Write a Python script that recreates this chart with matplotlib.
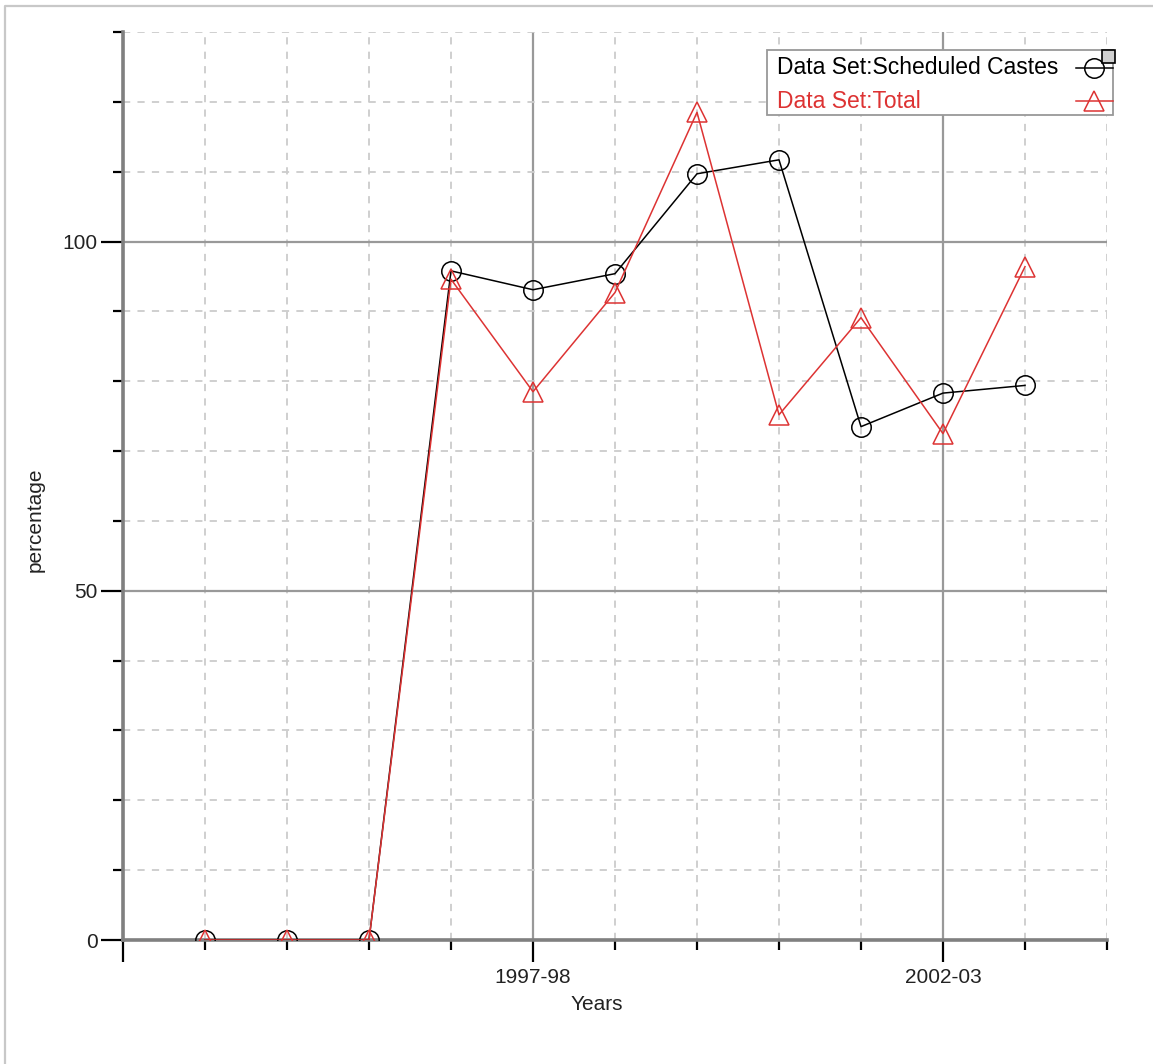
import matplotlib
matplotlib.use("Agg")
import matplotlib.pyplot as plt
from matplotlib.lines import Line2D
from matplotlib.patches import Rectangle

years = ["1993-94", "1994-95", "1995-96", "1996-97", "1997-98", "1998-99",
         "1999-00", "2000-01", "2001-02", "2002-03", "2003-04"]
sc_values = [0, 0, 0, 95.8, 93.1, 95.4, 109.7, 111.7, 73.5, 78.3, 79.4]
total_values = [0, 0, 0, 94.6, 78.5, 92.7, 118.5, 75.2, 89.1, 72.5, 96.4]
labeled_years = ["1997-98", "2002-03"]
series_names = ["Data Set:Scheduled Castes", "Data Set:Total"]

RED = '#dd3333'
TXT = '#222222'
W, H = 1153, 1064

plt.rcParams['font.family'] = ['Liberation Sans', 'DejaVu Sans']
fig = plt.figure(figsize=(W/100, H/100), dpi=100)
ax = fig.add_axes([123/W, 1 - 940/H, (1107-123)/W, (940-32)/H])

xs = list(range(1, len(years) + 1))
ax.plot(xs, sc_values, color='black', lw=1.1, marker='o', ms=14,
        mfc='none', mec='black', mew=1.1, zorder=3)
ax.plot(xs, total_values, color=RED, lw=1.1, marker='^', ms=15,
        mfc='none', mec=RED, mew=1.1, zorder=4)

ax.set_xlim(0, 12)
ax.set_ylim(0, 130)

major_x = [0] + [years.index(y) + 1 for y in labeled_years]
ax.set_xticks(major_x)
ax.set_xticklabels([""] + labeled_years, fontsize=15, color=TXT)
ax.set_xticks([i for i in range(0, 13) if i not in major_x], minor=True)
ax.set_yticks([0, 50, 100])
ax.set_yticklabels(["0", "50", "100"], fontsize=15, color=TXT)
ax.set_yticks([v for v in range(10, 131, 10) if v % 50 != 0], minor=True)

ax.tick_params(axis='both', which='major', length=16, width=1.6, color='black')
ax.tick_params(axis='x', which='major', pad=4)
ax.tick_params(axis='y', which='major', pad=2)
ax.tick_params(axis='both', which='minor', length=7, width=1.6, color='black')

ax.grid(True, which='major', color='#999999', lw=1.6, ls='-', zorder=1)
ax.grid(True, which='minor', color='#cccccc', lw=1.3, ls=(0, (4, 4)), zorder=1)
ax.set_axisbelow(True)

for s in ['top', 'right']:
    ax.spines[s].set_visible(False)
for s in ['left', 'bottom']:
    ax.spines[s].set_color('#808080')
    ax.spines[s].set_linewidth(2.6)

ax.set_xlabel("Years", fontsize=15, color=TXT)
ax.xaxis.set_label_coords((597-123)/(1107-123), -(1005-940)/(940-32), transform=ax.transAxes)
ax.xaxis.label.set_va('center')
ax.set_ylabel("percentage", fontsize=15, color=TXT)
ax.yaxis.set_label_coords(-(123-35)/(1107-123), (940-520)/(940-32))
ax.yaxis.label.set_va('center')

# legend (drawn by hand to match the left-aligned text with right-hand symbols)
fig.patches.append(Rectangle((767/W, 1 - 115/H), (1113-767)/W, (115-50)/H,
                             transform=fig.transFigure, facecolor='white',
                             edgecolor='#999999', lw=1.3, zorder=10))
for name, color, marker, yc, ms in [(series_names[0], 'black', 'o', 68, 14),
                                    (series_names[1], RED, '^', 101, 15)]:
    fig.text(777/W, 1 - yc/H, name, color=color, fontsize=16.5,
             va='center', ha='left', zorder=11)
    fig.lines.append(Line2D([1076/W, 1113/W], [1 - yc/H, 1 - yc/H],
                            transform=fig.transFigure, color=color, lw=1.1, zorder=11))
    fig.lines.append(Line2D([1094/W], [1 - yc/H], transform=fig.transFigure,
                            marker=marker, ms=ms, mfc='none', mec=color, mew=1.1,
                            ls='none', zorder=11))
fig.patches.append(Rectangle((1102/W, 1 - 63/H), 13/W, 13/H,
                             transform=fig.transFigure, facecolor='#d0d0d0',
                             edgecolor='black', lw=1.2, zorder=12))

# outer frame (top and left edges only)
fig.lines.append(Line2D([5/W, 5/W, 1.0], [0.0, 1 - 6/H, 1 - 6/H],
                        transform=fig.transFigure, color='#c8c8c8', lw=1.6))

fig.savefig("out.png", dpi=100)
